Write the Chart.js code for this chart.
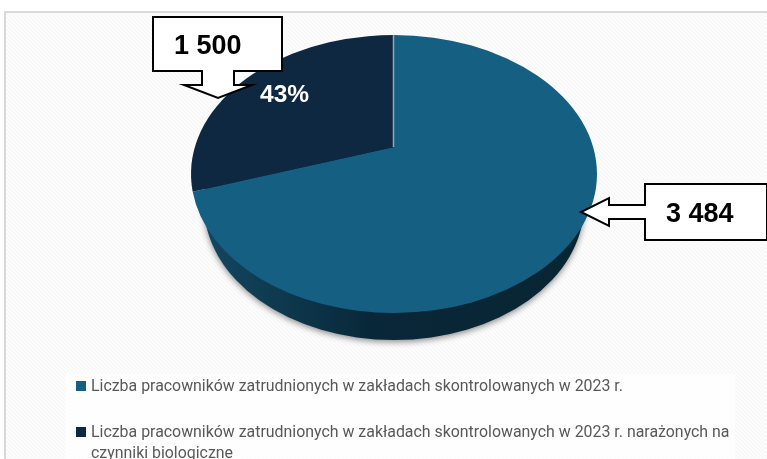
<!DOCTYPE html>
<html>
<head>
<meta charset="utf-8">
<script src="https://cdn.jsdelivr.net/npm/chart.js@4"></script>
<style>
    html, body { margin: 0; padding: 0; background: #fff; }
    #wrap { position: relative; width: 767px; height: 459px; overflow: hidden; }
</style>
</head>
<body>
<div id="wrap"><canvas id="chart"></canvas></div>
<script>
const categories = [
    ['Liczba pracowników zatrudnionych w zakładach skontrolowanych w 2023 r.'],
    ['Liczba pracowników zatrudnionych w zakładach skontrolowanych w 2023 r. narażonych na', 'czynniki biologiczne']
]
const workers = [3484, 1500]
const calloutLabels = ['3 484', '1 500']
const sliceLabels = ['', '43%']
const sliceColors = ['#156082', '#0E2841']

const TILT = 139 / 203    // ellipse height / width
const APEX = -27 / 139    // how far the pie centre sits above the ellipse centre

// circle point -> point on the ellipse, the way a tilted camera moves it
function tiltedAngle(angle) {
    const u = Math.cos(angle), v = Math.sin(angle)
    const d = 1 + APEX * v
    return Math.atan2((v + APEX) / d, u * Math.sqrt(1 - APEX * APEX) / d)
}

class TiltedArc extends Chart.ArcElement {
    static id = 'tiltedArc'
    draw(ctx) {
        const { x, y, startAngle, endAngle, outerRadius, options } = this
        const ry = outerRadius * TILT
        ctx.save()
        ctx.beginPath()
        ctx.moveTo(x, y + APEX * ry)
        ctx.ellipse(x, y, outerRadius, ry, 0, tiltedAngle(startAngle), tiltedAngle(endAngle))
        ctx.closePath()
        ctx.fillStyle = options.backgroundColor
        ctx.fill()
        ctx.restore()
    }
}

class TiltedPieController extends Chart.PieController {
    static id = 'tiltedPie'
    static defaults = { dataElementType: 'tiltedArc' }
}

Chart.register(TiltedArc, TiltedPieController)

const framePlugin = {
    id: 'frame',
    beforeDraw(chart) {
        const ctx = chart.ctx
        ctx.save()
        ctx.fillStyle = '#ffffff'
        ctx.fillRect(0, 0, 767, 459)
        ctx.beginPath()
        ctx.rect(6, 13, 761, 446)
        ctx.clip()
        ctx.fillStyle = '#fcfcfc'
        ctx.fillRect(6, 13, 761, 446)
        ctx.strokeStyle = '#f6f6f6'
        ctx.lineWidth = 1
        for (let i = -459; i < 767; i += 4) {
            ctx.beginPath()
            ctx.moveTo(i, 0)
            ctx.lineTo(i + 459, 459)
            ctx.stroke()
        }
        ctx.restore()
        ctx.strokeStyle = '#d9d9d9'
        ctx.lineWidth = 2
        ctx.beginPath()
        ctx.moveTo(5, 459)
        ctx.lineTo(5, 12)
        ctx.lineTo(767, 12)
        ctx.stroke()
        ctx.fillStyle = 'rgba(255,255,255,0.7)'
        ctx.fillRect(66, 374, 669, 85)
    }
}

const pieSidePlugin = {
    id: 'pieSide',
    beforeDatasetsDraw(chart) {
        const arc = chart.getDatasetMeta(0).data[0]
        const ctx = chart.ctx
        // the far end of the pie wall is smaller, so its ellipse is narrower and lower
        const rx = arc.outerRadius * 0.936, ry = arc.outerRadius * 0.665
        const side = ctx.createLinearGradient(arc.x - rx, 0, arc.x + rx, 0)
        side.addColorStop(0, '#124760')
        side.addColorStop(0.45, '#082738')
        side.addColorStop(1, '#082532')
        ctx.save()
        ctx.shadowColor = 'rgba(0,0,0,0.45)'
        ctx.shadowBlur = 6
        ctx.shadowOffsetY = 2
        ctx.fillStyle = side
        ctx.beginPath()
        ctx.ellipse(arc.x, arc.y + 31, rx, ry, 0, 0, Math.PI * 2)
        ctx.fill()
        ctx.restore()
    },
    afterDatasetsDraw(chart) {
        // thin light seam where the two slices meet at the top
        const arc = chart.getDatasetMeta(0).data[0]
        const ctx = chart.ctx
        const ry = arc.outerRadius * TILT
        ctx.save()
        ctx.strokeStyle = '#9aa7b0'
        ctx.lineWidth = 1.5
        ctx.beginPath()
        ctx.moveTo(arc.x - 0.5, arc.y - ry)
        ctx.lineTo(arc.x - 0.5, arc.y + APEX * ry)
        ctx.stroke()
        ctx.restore()
    }
}

function drawCallout(ctx, points, text, tx, ty) {
    ctx.beginPath()
    points.forEach(([x, y], i) => i ? ctx.lineTo(x, y) : ctx.moveTo(x, y))
    ctx.closePath()
    ctx.fillStyle = '#ffffff'
    ctx.fill()
    ctx.strokeStyle = '#000000'
    ctx.lineWidth = 2
    ctx.lineJoin = 'miter'
    ctx.stroke()
    ctx.fillStyle = '#000000'
    ctx.font = 'bold 27px "Liberation Sans"'
    ctx.textAlign = 'left'
    ctx.textBaseline = 'middle'
    ctx.fillText(text, tx, ty)
}

const labelPlugin = {
    id: 'labels',
    afterDraw(chart) {
        const ctx = chart.ctx
        ctx.save()
        ctx.fillStyle = '#ffffff'
        ctx.font = 'bold 24.5px "Liberation Sans"'
        ctx.textAlign = 'left'
        ctx.textBaseline = 'middle'
        ctx.fillText(sliceLabels[1], 260, 95)
        drawCallout(ctx, [[153, 17], [282, 17], [282, 71], [234, 71], [234, 85], [252, 85],
            [218, 98], [184, 85], [202, 85], [202, 71], [153, 71]], calloutLabels[1], 174, 47)
        drawCallout(ctx, [[645, 184], [767, 184], [767, 240], [645, 240], [645, 219], [609, 219],
            [609, 226], [581, 212], [609, 198], [609, 205], [645, 205]], calloutLabels[0], 666, 215)

        // legend
        const swatchX = 76, textX = 91, tops = [386, 432]
        ctx.font = '15.9px Roboto'
        categories.forEach((lines, i) => {
            ctx.fillStyle = sliceColors[i]
            ctx.fillRect(swatchX, tops[i] - 5, 10, 10)
            ctx.fillStyle = '#595959'
            lines.forEach((line, j) => ctx.fillText(line, textX, tops[i] + 1 + j * 21))
        })
        ctx.restore()
    }
}

const context = document.getElementById('chart').getContext('2d')
const chart = new Chart(context, {
    type: 'tiltedPie',
    data: {
        labels: categories.map(lines => lines.join(' ')),
        datasets: [{
            data: workers,
            backgroundColor: sliceColors,
            borderWidth: 0,
            radius: 203
        }]
    },
    plugins: [framePlugin, pieSidePlugin, labelPlugin],
    options: {
        animation: false,
        responsive: true,
        maintainAspectRatio: false,
        layout: {
            padding: { left: 21, right: 0, top: 0, bottom: 111 }
        },
        plugins: {
            legend: { display: false },
            tooltip: { enabled: false }
        }
    }
})
</script>
</body>
</html>
